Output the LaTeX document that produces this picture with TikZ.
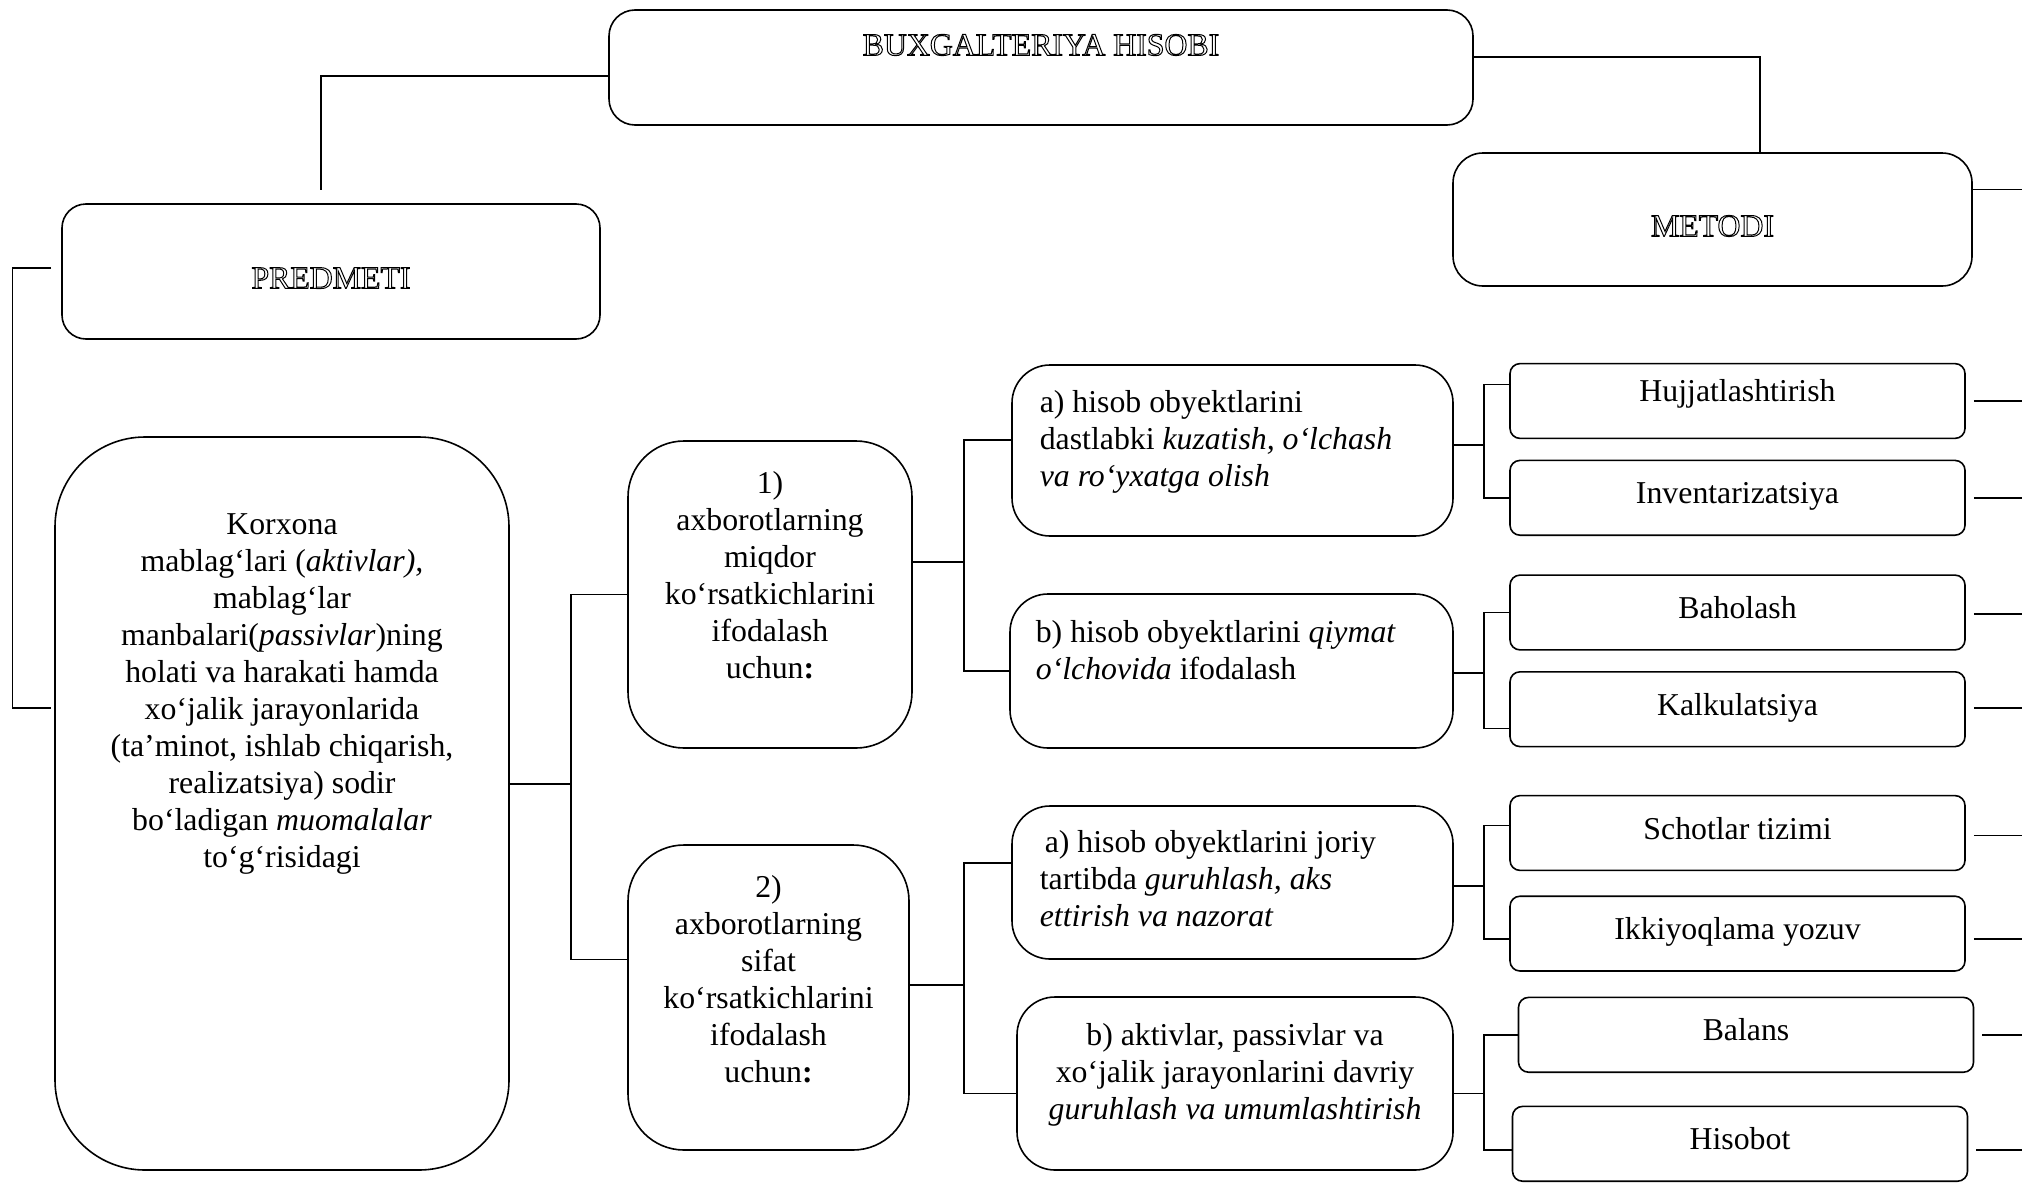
\documentclass[tikz,border=0pt]{standalone}
\usepackage{fontspec}
\setmainfont{Liberation Serif}

% hollow (outlined) letters
\newcommand{\kontur}[1]{\special{pdf:literal direct 1 Tr 0.5 w}#1\special{pdf:literal direct 0 Tr}}

\begin{document}
\begin{tikzpicture}[x=0.5pt,y=-0.5pt,line width=0.8pt,
  font=\fontsize{15.9}{18.5}\selectfont,
  blok/.style={draw,rounded corners=#1,inner sep=0pt},
  blok/.default=5pt,
  usul/.style={blok=5pt,minimum width=227.5pt,minimum height=37.4pt,text depth=5pt},
  matn/.style={inner sep=0pt,align=center}]
\useasboundingbox (0,0) rectangle (2022,1183);

% top level
\node[blok=13pt,minimum width=432pt,minimum height=57.5pt] (hisob) at (1041,67.5) {};
\node[matn] (hisobmatn) at (1041,45) {\kontur{BUXGALTERIYA HISOBI}};
\node[blok=12pt,minimum width=269pt,minimum height=67.5pt,text height=17pt] (predmet) at (331,271.5) {\kontur{PREDMETI}};
\node[blok=15pt,minimum width=259.5pt,minimum height=66.5pt,text height=17pt] (metodi) at (1712.5,219.5) {\kontur{METODI}};

\draw ([yshift=-4.25pt]hisob.west) -| ([xshift=-5pt,yshift=6.5pt]predmet.north);
\draw ([yshift=5.4pt]hisob.east) -| ([xshift=23.75pt]metodi.north);
\draw ([yshift=15pt]metodi.east) -- ++(25pt,0);

% subject
\node[blok=45pt,minimum width=227pt,minimum height=366.5pt] (korxona) at (282,803.5) {};
\node[matn] (korxonamatn) at (282,694) {Korxona\\ mablag‘lari (\textit{aktivlar),}\\ mablag‘lar\\
  manbalari(\textit{passivlar})ning\\ holati va harakati hamda\\ xo‘jalik jarayonlarida\\
  (ta’minot, ishlab chiqarish,\\ realizatsiya) sodir\\ bo‘ladigan \textit{muomalalar}\\ to‘g‘risidagi};
\draw ([xshift=-5pt,yshift=1.75pt]predmet.west) -- ++(-19.3pt,0) |- ([xshift=-1.5pt,yshift=47.75pt]korxona.west);

% two groups of information
\node[blok=28pt,minimum width=142pt,minimum height=153.5pt] (axb1) at (770,594.5) {};
\node[matn] (axb1matn) at (770,575) {1)\\ axborotlarning\\ miqdor\\ ko‘rsatkichlarini\\ ifodalash\\ uchun\textbf{:}};
\node[blok=28pt,minimum width=140.5pt,minimum height=152.5pt] (axb2) at (768.5,997.5) {};
\node[matn] (axb2matn) at (768.5,979) {2)\\ axborotlarning\\ sifat\\ ko‘rsatkichlarini\\ ifodalash\\ uchun\textbf{:}};

\draw ([yshift=9.75pt]korxona.east) -- ++(30.5pt,0) coordinate (t1);
\draw (axb1.west) -| (t1) |- ([yshift=19pt]axb2.west);

% a) / b)
\node[blok=19pt,minimum width=220.5pt,minimum height=85.5pt] (a1) at (1232.5,450.5) {};
\node[matn,anchor=west,align=left] (a1matn) at (1039,442) {a) hisob obyektlarini\\ dastlabki \textit{kuzatish, o‘lchash}\\ \textit{va ro‘yxatga olish}};
\node[blok=19pt,minimum width=221.5pt,minimum height=77pt] (b1) at (1231.5,671) {};
\node[matn,anchor=west,align=left] (b1matn) at (1035,650) {b) hisob obyektlarini \textit{qiymat}\\ \textit{o‘lchovida} ifodalash};
\node[blok=19pt,minimum width=220.5pt,minimum height=76.5pt] (a2) at (1232.5,882.5) {};
\node[matn,anchor=west,align=left] (a2matn) at (1039,879) {\hspace{2.5pt}a) hisob obyektlarini joriy\\ tartibda \textit{guruhlash, aks}\\ \textit{ettirish va nazorat}};
\node[blok=19pt,minimum width=218pt,minimum height=86.5pt] (b2) at (1235,1083.5) {};
\node[matn] (b2matn) at (1235,1074.5) {b) aktivlar, passivlar va\\ xo‘jalik jarayonlarini davriy\\ \textit{guruhlash va umumlashtirish}};

\draw ([yshift=16.25pt]axb1.east) -- ++(25.5pt,0) coordinate (t2);
\draw ([yshift=5.4pt]a1.west) -| (t2) |- (b1.west);
\draw ([yshift=6.25pt]axb2.east) -- ++(27pt,0) coordinate (t3);
\draw ([yshift=9.9pt]a2.west) -| (t3) |- ([yshift=-5pt]b2.west);

% methods
\node[usul,text depth=11pt] (hujjat) at (1737.5,401) {Hujjatlashtirish};
\node[usul] (invent) at (1737.5,497.8) {Inventarizatsiya};
\node[usul] (bahol) at (1737.5,612.5) {Baholash};
\node[usul] (kalk) at (1737.5,709.2) {Kalkulatsiya};
\node[usul] (schot) at (1737.5,833) {Schotlar tizimi};
\node[usul] (ikki) at (1737.5,933.6) {Ikkiyoqlama yozuv};
\node[usul] (balans) at (1746,1034.8) {Balans};
\node[usul] (hisobot) at (1740,1143.8) {Hisobot};

\draw ([yshift=2.8pt]a1.east) -- ++(15pt,0) coordinate (t4);
\draw ([yshift=8.35pt]hujjat.west) -| (t4) |- (invent.west);
\draw ([yshift=-1pt]b1.east) -- ++(15pt,0) coordinate (t5);
\draw (bahol.west) -| (t5) |- ([yshift=-9.7pt]kalk.west);
\draw ([yshift=-1.7pt]a2.east) -- ++(15pt,0) coordinate (t6);
\draw ([yshift=3.85pt]schot.west) -| (t6) |- ([yshift=-2.6pt]ikki.west);
\draw ([yshift=-5pt]b2.east) -- ++(15pt,0) coordinate (t7);
\draw (balans.west) -| (t7) |- ([yshift=-3.2pt]hisobot.west);

\foreach \n/\dy in {hujjat/0,invent/0,bahol/-0.65,kalk/0.6,schot/-1.3,ikki/-2.6,balans/0,hisobot/-3.2}
  \draw ([xshift=4pt,yshift=\dy pt]\n.east) -- ++(25pt,0);
\end{tikzpicture}
\end{document}
